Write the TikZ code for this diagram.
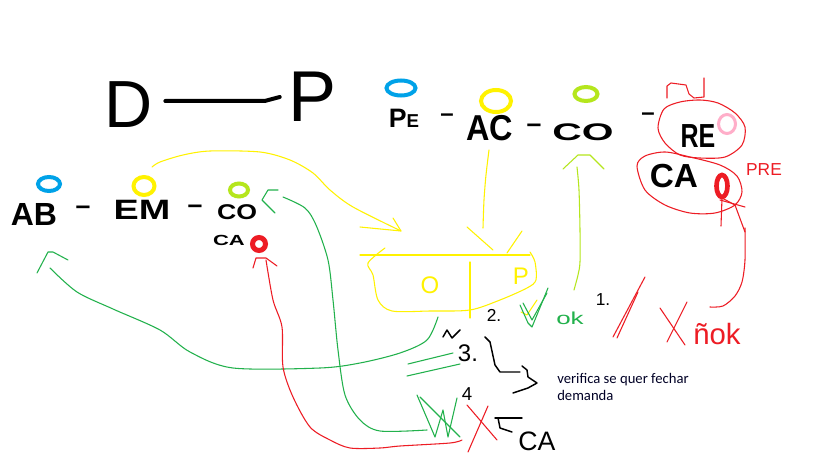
\documentclass[tikz,border=0pt]{standalone}
\usepackage{fontspec}
\usetikzlibrary{shapes.geometric}
\newfontfamily\hfam{Liberation Sans}
\newfontfamily\calfont{Carlito}
\newcommand\hsz[1]{\fontsize{#1}{#1}\selectfont}
\definecolor{pblue}{HTML}{00A2E8}
\definecolor{pyellow}{HTML}{FFF200}
\definecolor{plime}{HTML}{B5E61D}
\definecolor{pgreen}{HTML}{22B14C}
\definecolor{pred}{HTML}{ED1C24}
\definecolor{ppink}{HTML}{FFAEC9}
\tikzset{
  hand/.style={inner sep=0pt, text=black},
  ring/.style={ellipse, inner sep=0pt, line width=3pt},
  pen/.style={line width=0.8pt, line join=round, line cap=round},
  ink/.style={line width=3pt, line join=round, line cap=round},
  blk/.style={pen, black, line width=1.1pt},
}
\begin{document}
\begin{tikzpicture}[x=0.75pt,y=-0.75pt]
\useasboundingbox[fill=white] (0,0) rectangle (819,460);

% ---------- title D -- P
\node[hand, font=\hfam\hsz{50}] (D) at (129,105) {D};
\node[hand, font=\hfam\hsz{54}] (P) at (313,97) {P};
\draw[ink] ([shift={(12,-4)}]D.east) -- ([shift={(-24,4)}]P.west) -- ([shift={(-9,0)}]P.west);

% ---------- right row  PE - AC - CO - RE / CA
\node[hand, font=\hfam\bfseries\hsz{20}] (pe) at (404,118) {P{\hsz{14}E}};
\node[hand, font=\hfam\bfseries\hsz{18}] (d1) at (447,118) {\textendash};
\node[hand, font=\hfam\bfseries\hsz{27}] (ac) at (490,128) {\scalebox{0.9}[1]{AC}};
\node[hand, font=\hfam\bfseries\hsz{20}] (d2) at (534,128) {\textendash};
\node[hand, font=\hfam\bfseries\hsz{18}] (co2) at (583,132) {\scalebox{1.7}[1]{CO}};
\node[hand, font=\hfam\bfseries\hsz{18}] (d3) at (648,117) {\textendash};
\node[hand, font=\hfam\bfseries\hsz{25}] (re) at (698,136) {\scalebox{0.75}[1]{RE}};
\node[hand, font=\hfam\bfseries\hsz{25}] (ca2) at (674,176) {CA};
\node[hand, text=pred, font=\hfam\hsz{13}] (pre) at (764,170) {PRE};

\node[ring, draw=pblue, minimum width=21.75pt, minimum height=11.25pt] (b2) at (401,88) {};
\node[ring, draw=pyellow, minimum width=22.5pt, minimum height=16.5pt] (y2) at (496,101) {};
\node[ring, draw=plime, minimum width=17.25pt, minimum height=10.5pt] (l2) at (586,94) {};
\node[ring, draw=ppink, line width=2.25pt, minimum width=12.75pt, minimum height=14.25pt] (k2) at (727,124) {};
\node[ring, draw=pred, line width=3.5pt, minimum width=8.25pt, minimum height=16.5pt] (r2) at (722,186) {};

% red loops round RE and CA
\draw[pen, pred] plot[smooth cycle] coordinates {(658,128) (664,109) (680,102) (700,100) (718,103) (735,113) (745,127) (742,145) (725,157) (700,158) (680,155) (665,143)};
\draw[pen, pred] plot[smooth cycle] coordinates {(637,166) (645,156) (665,152) (690,157) (720,165) (737,176) (742,192) (735,205) (715,213) (690,213) (665,205) (645,190)};
\draw[pen, pred] (667,98) -- (667,86) -- (671,83) -- (686,85) -- (689,94) -- (694,98) -- (704,97) -- (704,78);

% ---------- left row  AB - EM - CO / CA
\node[hand, font=\hfam\bfseries\hsz{24}] (ab) at (34,214) {AB};
\node[hand, font=\hfam\bfseries\hsz{20}] (d4) at (83,210) {\textendash};
\node[hand, font=\hfam\bfseries\hsz{21}] (em) at (142,210) {\scalebox{1.35}[1]{EM}};
\node[hand, font=\hfam\bfseries\hsz{20}] (d5) at (195,209) {\textendash};
\node[hand, font=\hfam\bfseries\hsz{16}] (co1) at (237,212) {\scalebox{1.25}[1]{CO}};
\node[hand, font=\hfam\bfseries\hsz{11}] (ca1) at (229,240) {\scalebox{1.5}[1]{CA}};

\node[ring, draw=pblue, minimum width=16.5pt, minimum height=10.5pt] (b1) at (49,184) {};
\node[ring, draw=pyellow, minimum width=15.75pt, minimum height=13.5pt] (y1) at (144,186) {};
\node[ring, draw=plime, minimum width=13.5pt, minimum height=9.75pt] (l1) at (239,190) {};
\node[ring, draw=pred, line width=3.75pt, minimum width=9.75pt, minimum height=9.75pt] (r1) at (259,244) {};

% ---------- yellow box O | P
\draw[pen, pyellow] (360,255) -- (530,255);
\draw[pen, pyellow] plot[smooth] coordinates {(385,248) (368,263) (373,275) (378,300) (392,311) (430,311) (470,310) (500,300) (527,288) (536,280) (535,262) (530,252)};
\draw[pen, pyellow] (470,262) -- (470,318);
\node[hand, text=pyellow, font=\hfam\hsz{18}] (o) at (430,285) {O};
\node[hand, text=pyellow, font=\hfam\hsz{18}] (p) at (521,276) {P};

% yellow arrows
\coordinate (yA) at (401,231);
\draw[pen, pyellow] plot[smooth] coordinates {(152,167) (160,162) (183,155) (210,151) (260,152) (290,160) (313,173) (330,190) (353,207) (401,231)};
\draw[pen, pyellow] (360,227) -- (yA) -- (393,218);
\draw[pen, pyellow] plot[smooth] coordinates {(489,150) (486,175) (484,200) (483,228)};
\draw[pen, pyellow] (467,227) -- (493,250);
\draw[pen, pyellow] (522,231) -- (507,253);

% lime arrow up to CO
\draw[pen, plime] plot[smooth] coordinates {(574,290) (578,275) (580,262) (580,230) (579,190) (577,167)};
\draw[pen, plime] (563,169) -- (578,155) -- (590,155) -- (604,169);

% ---------- green arrows
\draw[pen, pgreen] (278,190) -- (268,190) -- (262,200) -- (275,213);
\draw[pen, pgreen] plot[smooth] coordinates {(283,197) (305,208) (316,225) (328,260) (333,300) (338,350) (345,395) (360,420) (380,431) (427,430)};
\draw[pen, pgreen] (37,273) -- (48,252) -- (53,252) -- (68,260);
\draw[pen, pgreen] plot[smooth] coordinates {(438,317) (427,340) (400,353) (360,363) (320,368) (233,368) (190,352) (160,330) (113,309) (77,292) (50,268)};
\draw[pen, pgreen] (408,364) -- (453,353);
\draw[pen, pgreen] (407,376) -- (460,364);
% small check + ok
\draw[pen, pyellow] (537,300) -- (527,315) -- (521,312);
\draw[pen, pgreen] (520,305) -- (528,323) -- (532,327) -- (548,288);
\draw[pen, pgreen] (523,303) -- (532,320) -- (547,293);
\node[hand, text=pgreen, font=\hfam\hsz{13}] (ok1) at (570,318) {\scalebox{1.5}[1]{ok}};
% big check
\draw[pen, pgreen] (417,395) -- (435,437) -- (443,410) -- (448,437) -- (457,398);
\draw[pen, pgreen] (420,397) -- (460,437);

% ---------- red arrows and marks
\draw[pen, pred] (253,268) -- (256,258) -- (266,258) -- (277,266);
\draw[pen, pred] plot[smooth] coordinates {(266,260) (273,300) (282,327) (283,367) (293,397) (310,427) (330,440) (350,448) (380,448) (400,446) (450,443) (462,440)};
\draw[pen, pred] (467,405) -- (497,440);
\draw[pen, pred] (488,406) -- (468,452);
\draw[pen, pred] (613,337) -- (645,277);
\draw[pen, pred] (617,338) -- (638,292);
\draw[pen, pred] (660,308) -- (685,345);
\draw[pen, pred] (687,302) -- (667,342);
\node[hand, text=pred, font=\hfam\hsz{22}] (nok) at (717,334) {ñok};
\draw[pen, pred] (721,226) -- (722,198) -- (735,205) -- (745,232);
\draw[pen, pred] (720,200) -- (745,207);
\draw[pen, pred] plot[smooth] coordinates {(745,228) (745,260) (742,282) (735,296) (723,306) (710,307)};

% ---------- black numbering
\node[hand, font=\hfam\hsz{13}] (n1) at (603,300) {1.};
\node[hand, font=\hfam\hsz{13}] (n2) at (494,315) {2.};
\node[hand, font=\hfam\hsz{18}] (n3) at (468,353) {3.};
\node[hand, font=\hfam\hsz{14}] (n4) at (467,394) {4};
\node[hand, font=\hfam\hsz{20}] (cab) at (537,441) {CA};
\draw[blk] (443,337) -- (447,330) -- (452,338) -- (460,330);
\draw[blk] (485,337) -- (490,342) -- (495,365) -- (500,372) -- (520,372);
\draw[blk] (522,366) -- (527,370) -- (528,377) -- (537,383) -- (528,388) -- (513,393);
\draw[blk] (495,418) -- (522,418);
\draw[blk] (498,418) -- (500,428) -- (512,432);

\node[anchor=north west, inner sep=0pt, align=left, text=black!85!blue, font=\calfont\fontsize{11}{13}\selectfont] (txt) at (557,373) {verifica se quer fechar\\demanda};
\end{tikzpicture}
\end{document}
